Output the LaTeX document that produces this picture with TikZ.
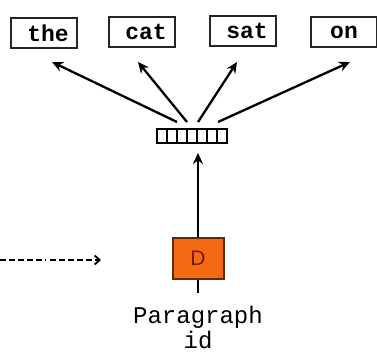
\documentclass[tikz,border=0pt]{standalone}
\usepackage{fontspec}
\setmonofont{Liberation Mono}
\setsansfont{Liberation Sans}
\usetikzlibrary{arrows.meta}
\definecolor{dorange}{HTML}{F36A12}
\definecolor{dborder}{HTML}{5E2A0C}
\definecolor{dtext}{HTML}{7A1A05}
\begin{document}
\begin{tikzpicture}[x=1pt,y=-1pt,
  word/.style={draw=black!85, line width=2.2pt, minimum width=66pt, minimum height=30pt, inner sep=0pt, font=\ttfamily\bfseries\fontsize{23}{23}\selectfont},
  arr/.style={line width=2.3pt, -{Stealth[length=11pt,width=10pt]}},
  cell/.style={draw=black, line width=1.6pt, minimum width=10pt, minimum height=14pt, inner sep=0pt, outer sep=0pt},
  dbox/.style={draw=dborder, line width=2pt, fill=dorange, minimum width=51pt, minimum height=41pt, inner sep=0pt, text=dtext, font=\sffamily\fontsize{21}{21}\selectfont},
  lbl/.style={font=\ttfamily\fontsize{24}{24}\selectfont, align=center, inner sep=0pt}]
\useasboundingbox (0,0) rectangle (377,354);
\newcommand{\wsh}{\hspace*{8pt}}
\node[word] (the) at (44,33) {\wsh the};
\node[word] (cat) at (142,32) {\wsh cat};
\node[word] (sat) at (243,31) {\wsh sat};
\node[word] (on) at (344,32) {on};
\foreach \i in {0,...,6} {
  \node[cell] (c\i) at ({162+\i*10},136) {};
}
\coordinate (vt1) at (177,122);
\coordinate (vt2) at (187,122);
\coordinate (vt3) at (198,122);
\coordinate (vt4) at (218,122);
\coordinate (t1) at (52,62);
\coordinate (t2) at (138,62);
\coordinate (t3) at (237,62);
\coordinate (t4) at (350,62);
\draw[arr] (vt1) -- (t1);
\draw[arr] (vt2) -- (t2);
\draw[arr] (vt3) -- (t3);
\draw[arr] (vt4) -- (t4);
\node[dbox] (D) at (198,258) {D};
\coordinate (vb) at (198,153);
\coordinate (db) at (198,293);
\draw[arr] (D.north) -- (vb);
\draw[line width=2.3pt] (D.south) -- (db);
\node[lbl] (para) at (198,327) {Paragraph\\[1pt]id};
\coordinate (ds) at (0,260);
\coordinate (dm1) at (46,260);
\coordinate (dm2) at (50,260);
\coordinate (de) at (101,260);
\draw[line width=1.8pt, dash pattern=on 6pt off 3pt] (ds) -- (dm1);
\draw[line width=1.8pt, dash pattern=on 6pt off 3pt, -{Straight Barb[length=5pt,width=9pt]}] (dm2) -- (de);
\end{tikzpicture}
\end{document}
